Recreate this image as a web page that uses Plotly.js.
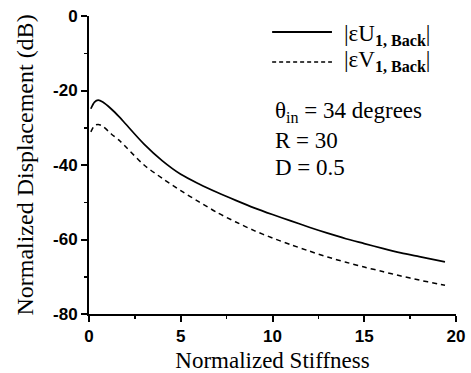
<!DOCTYPE html>
<html>
<head>
<meta charset="utf-8">
<script src="https://cdn.plot.ly/plotly-3.0.1.min.js"></script>
<style>
html,body{margin:0;padding:0;background:#fff;}
#chart{width:471px;height:373px;}
#chart .xtick text, #chart .ytick text{font-weight:bold !important;}
</style>
</head>
<body>
<div id="chart"></div>
<script>
// Normalized stiffness (x)
const stiffness = [0.1, 0.3, 0.5, 0.75, 1.2, 1.65, 2, 3, 4, 5, 6, 7, 8, 9, 10, 11, 12, 13, 14, 15, 16, 17, 18, 19, 19.4];
// |eps U_1,Back| (dB)
const uBack = [-24.9, -23.1, -22.6, -23.1, -24.9, -27.1, -29.0, -34.4, -38.9, -42.5, -45.1, -47.4, -49.5, -51.5, -53.3, -55.0, -56.7, -58.3, -59.8, -61.1, -62.4, -63.6, -64.6, -65.6, -66.0];
// |eps V_1,Back| (dB)
const vBack = [-31.1, -29.4, -29.1, -29.6, -31.6, -33.4, -35.1, -40.0, -43.6, -46.9, -49.9, -52.8, -55.3, -57.6, -59.6, -61.4, -63.1, -64.7, -66.1, -67.4, -68.6, -69.8, -70.9, -71.9, -72.3];
const xTicks = [0, 5, 10, 15, 20];
const yTicks = [-80, -60, -40, -20, 0];
const legendLabels = ['|εU<sub><b>1, Back</b></sub>|', '|εV<sub><b>1, Back</b></sub>|'];
const paramLines = ['θ<sub>in</sub> = 34 degrees', 'R = 30', 'D = 0.5'];

const serif = 'Liberation Serif, Times New Roman, serif';
const sans = 'Liberation Sans, Arial, sans-serif';

const traces = [
  {x: stiffness, y: uBack, mode: 'lines', line: {color: '#000', width: 1.7, shape: 'spline', smoothing: 0.8}, showlegend: false, hoverinfo: 'skip'},
  {x: stiffness, y: vBack, mode: 'lines', line: {color: '#000', width: 1.5, dash: '5px,4px', shape: 'spline', smoothing: 0.8}, showlegend: false, hoverinfo: 'skip'}
];

const axisCommon = {
  showline: true, linewidth: 2, linecolor: '#000', mirror: false,
  showgrid: false, zeroline: false,
  ticks: 'outside', ticklen: 6, tickwidth: 2, tickcolor: '#000',
  tickfont: {family: sans, size: 17, color: '#000', weight: 700},
  fixedrange: true
};

const layout = {
  width: 471, height: 373,
  margin: {l: 89, r: 15, t: 16, b: 59},
  paper_bgcolor: '#fff', plot_bgcolor: '#fff',
  xaxis: Object.assign({}, axisCommon, {
    range: [0, 20], tickvals: xTicks, ticktext: xTicks.map(String),
    minor: {dtick: 2.5, tick0: 0, ticks: 'outside', ticklen: 3, tickwidth: 1.5, tickcolor: '#000'},
    title: {text: 'Normalized Stiffness', font: {family: serif, size: 23, color: '#000'}, standoff: 10}
  }),
  yaxis: Object.assign({}, axisCommon, {
    range: [-80, 0], tickvals: yTicks, ticktext: yTicks.map(String),
    minor: {dtick: 10, tick0: 0, ticks: 'outside', ticklen: 3, tickwidth: 1.5, tickcolor: '#000'},
    title: {text: 'Normalized Displacement (dB)', font: {family: serif, size: 24, color: '#000'}, standoff: 13}
  }),
  shapes: [
    {type: 'line', xref: 'paper', yref: 'paper', x0: 0.499, x1: 0.662, y0: 0.946, y1: 0.946, line: {color: '#000', width: 2}},
    {type: 'line', xref: 'paper', yref: 'paper', x0: 0.499, x1: 0.662, y0: 0.846, y1: 0.846, line: {color: '#000', width: 1.5, dash: '4px,3px'}}
  ],
  annotations: [
    {xref: 'paper', yref: 'paper', x: 0.689, y: 0.935, xanchor: 'left', yanchor: 'middle', showarrow: false, text: legendLabels[0], font: {family: serif, size: 23, color: '#000'}},
    {xref: 'paper', yref: 'paper', x: 0.689, y: 0.848, xanchor: 'left', yanchor: 'middle', showarrow: false, text: legendLabels[1], font: {family: serif, size: 23, color: '#000'}},
    {xref: 'paper', yref: 'paper', x: 0.501, y: 0.678, xanchor: 'left', yanchor: 'middle', showarrow: false, text: paramLines[0], font: {family: serif, size: 23, color: '#000'}},
    {xref: 'paper', yref: 'paper', x: 0.501, y: 0.581, xanchor: 'left', yanchor: 'middle', showarrow: false, text: paramLines[1], font: {family: serif, size: 23, color: '#000'}},
    {xref: 'paper', yref: 'paper', x: 0.501, y: 0.490, xanchor: 'left', yanchor: 'middle', showarrow: false, text: paramLines[2], font: {family: serif, size: 23, color: '#000'}}
  ]
};

Plotly.newPlot('chart', traces, layout, {staticPlot: true, displayModeBar: false});
</script>
</body>
</html>
